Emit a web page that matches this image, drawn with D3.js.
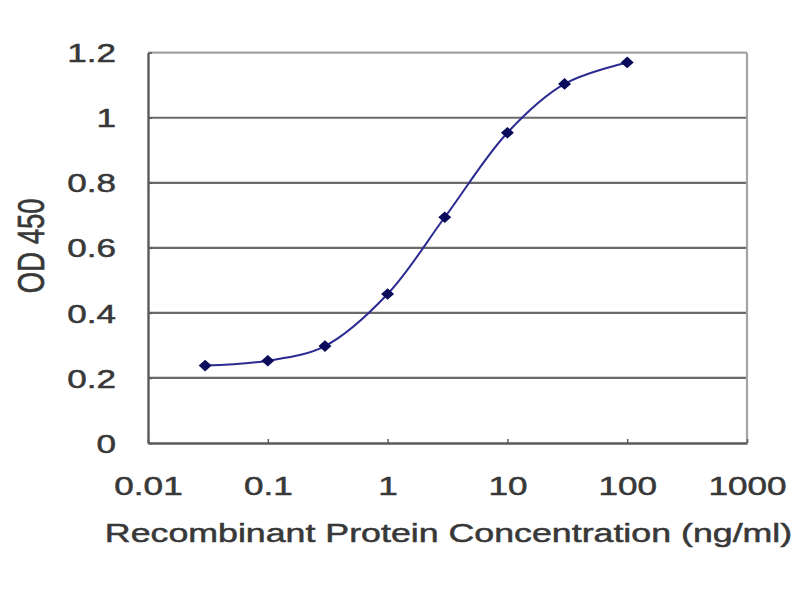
<!DOCTYPE html>
<html>
<head>
<meta charset="utf-8">
<script src="https://cdn.jsdelivr.net/npm/d3@7"></script>
<style>
  html, body { margin: 0; padding: 0; background: #fff; }
  svg { display: block; }
  text { font-family: "Liberation Sans", Arial, sans-serif; fill: #383838; stroke: #383838; stroke-width: 0.5px; }
</style>
</head>
<body>
<svg id="chart" width="800" height="600"></svg>
<script>
// ---- data ----
const concentrations = [0.03, 0.1, 0.3, 1, 3, 10, 30, 100];
const od450 = [0.238, 0.253, 0.298, 0.458, 0.694, 0.954, 1.104, 1.170];
const xTicks = [0.01, 0.1, 1, 10, 100, 1000];
const xTickLabels = ["0.01", "0.1", "1", "10", "100", "1000"];
const yTicks = [0, 0.2, 0.4, 0.6, 0.8, 1.0, 1.2];
const yTickLabels = ["0", "0.2", "0.4", "0.6", "0.8", "1", "1.2"];
const xTitle = "Recombinant Protein Concentration (ng/ml)";
const yTitle = "OD 450";

// ---- layout ----
const plotL = 148, plotR = 747, plotT = 52.7, plotB = 443;
const stretch = 1.35;

const svg = d3.select("#chart");

const x = d3.scaleLog().domain([0.01, 1000]).range([plotL, plotR]);
const y = d3.scaleLinear().domain([0, 1.2]).range([plotB, plotT]);

// gridlines
svg.append("g").selectAll("line")
  .data(yTicks.filter(t => t > 0 && t < 1.2))
  .join("line")
  .attr("x1", plotL).attr("x2", plotR)
  .attr("y1", d => y(d)).attr("y2", d => y(d))
  .attr("stroke", "#6a6a6a").attr("stroke-width", 2.2);

// top and right border
svg.append("line").attr("x1", plotL).attr("x2", plotR)
  .attr("y1", y(1.2)).attr("y2", y(1.2))
  .attr("stroke", "#a4a4a4").attr("stroke-width", 2.2);
svg.append("line").attr("x1", plotR).attr("x2", plotR)
  .attr("y1", y(1.2)).attr("y2", y(0))
  .attr("stroke", "#a4a4a4").attr("stroke-width", 2.2);

// y axis
const yAxis = d3.axisLeft(y)
  .tickValues(yTicks)
  .tickFormat((d, i) => yTickLabels[i])
  .tickSizeInner(-4).tickSizeOuter(0).tickPadding(32);
const gy = svg.append("g").attr("transform", `translate(${plotL},0)`).call(yAxis);
gy.select(".domain").attr("stroke", "#5a5a5a").attr("stroke-width", 2.4);
gy.selectAll(".tick line").attr("stroke", "#5a5a5a").attr("stroke-width", 1.5);
gy.selectAll(".tick text")
  .attr("x", -32 / stretch)
  .attr("dy", "0.35em")
  .attr("transform", `scale(${stretch},1)`)
  .style("font-size", "26px")
  .style("font-family", "'Liberation Sans', Arial, sans-serif")
  .attr("fill", "#383838");

// x axis
const xAxis = d3.axisBottom(x)
  .tickValues(xTicks)
  .tickFormat((d, i) => xTickLabels[i])
  .tickSizeInner(-4).tickSizeOuter(0).tickPadding(0);
const gx = svg.append("g").attr("transform", `translate(0,${plotB})`).call(xAxis);
gx.select(".domain").attr("stroke", "#5a5a5a").attr("stroke-width", 2.6);
gx.selectAll(".tick line").attr("stroke", "#5a5a5a").attr("stroke-width", 1.5);
gx.selectAll(".tick text")
  .attr("y", 52)
  .attr("dy", "0")
  .attr("transform", `scale(${stretch},1)`)
  .style("font-size", "26px")
  .style("font-family", "'Liberation Sans', Arial, sans-serif")
  .attr("fill", "#383838");

// axis titles
svg.append("text")
  .attr("transform", `translate(${(plotL + plotR) / 2 + 1},542) scale(1.375,1)`)
  .attr("text-anchor", "middle")
  .style("font-size", "26px")
  .text(xTitle);

svg.append("text")
  .attr("transform", `translate(44,${(plotT + plotB) / 2 - 2}) scale(${stretch},1) rotate(-90)`)
  .attr("text-anchor", "middle")
  .style("font-size", "27.5px")
  .text(yTitle);

// data
const pts = concentrations.map((c, i) => ({ c, v: od450[i] }));

const line = d3.line()
  .x(d => x(d.c)).y(d => y(d.v))
  .curve(d3.curveCatmullRom.alpha(0.5));

svg.append("path")
  .datum(pts)
  .attr("d", line)
  .attr("fill", "none")
  .attr("stroke", "#2a2a90")
  .attr("stroke-width", 2);

const diamond = {
  draw(ctx, size) {
    const r = Math.sqrt(size / 2);
    ctx.moveTo(0, -r * 0.9);
    ctx.lineTo(r, 0);
    ctx.lineTo(0, r * 0.9);
    ctx.lineTo(-r, 0);
    ctx.closePath();
  }
};

svg.append("g").selectAll("path")
  .data(pts)
  .join("path")
  .attr("transform", d => `translate(${x(d.c)},${y(d.v)})`)
  .attr("d", d3.symbol().type(diamond).size(84))
  .attr("fill", "#0b0b5c");
</script>
</body>
</html>
